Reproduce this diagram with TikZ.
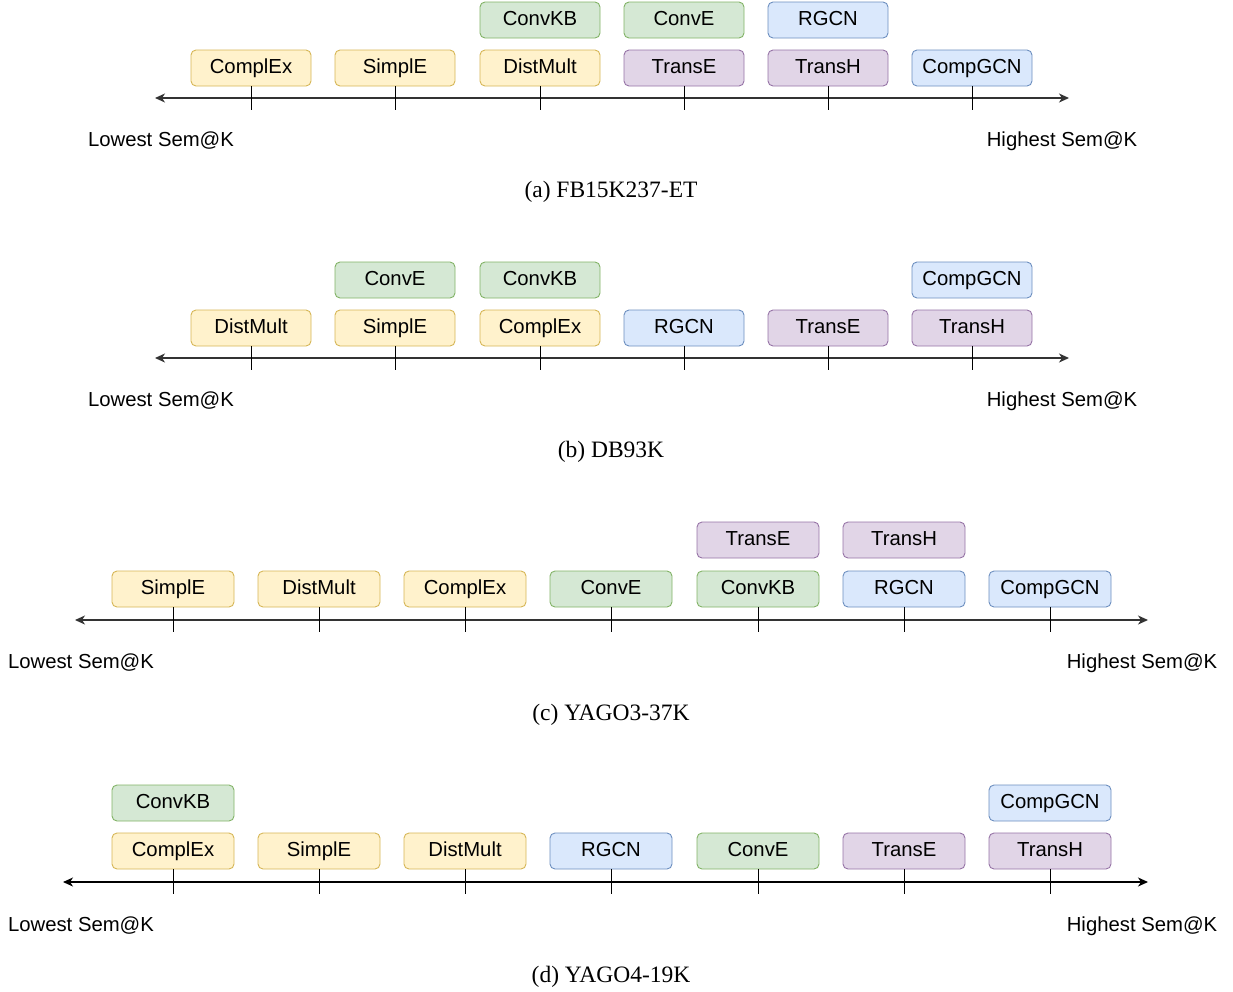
\documentclass[tikz,border=0pt]{standalone}
\usepackage{fontspec}
\setmainfont{Liberation Serif}
\setsansfont{Liberation Sans}
\usetikzlibrary{arrows.meta}
\definecolor{yfill}{HTML}{FFF2CC}\definecolor{ydraw}{HTML}{D6B656}
\definecolor{gfill}{HTML}{D5E8D4}\definecolor{gdraw}{HTML}{82B366}
\definecolor{bfill}{HTML}{DAE8FC}\definecolor{bdraw}{HTML}{6C8EBF}
\definecolor{pfill}{HTML}{E1D5E7}\definecolor{pdraw}{HTML}{9673A6}
\definecolor{axgray}{HTML}{333333}
\tikzset{
  mbox/.style={rounded corners=5pt, minimum width=120pt, minimum height=36pt, inner sep=0pt,
    font=\sffamily\fontsize{20.3}{24}\selectfont, text height=14.3pt, text depth=3pt, line width=0.9pt},
  wide/.style={minimum width=122pt},
  ybox/.style={mbox, fill=yfill, draw=ydraw},
  gbox/.style={mbox, fill=gfill, draw=gdraw},
  bbox/.style={mbox, fill=bfill, draw=bdraw},
  pbox/.style={mbox, fill=pfill, draw=pdraw},
  axisline/.style={draw=axgray, line width=1.4pt, {Stealth[length=10pt,width=9pt,inset=3pt]}-{Stealth[length=10pt,width=9pt,inset=3pt]}},
  axisblack/.style={axisline, draw=black, line width=1.1pt},
  tickline/.style={draw=black, line width=0.9pt},
  endlabel/.style={anchor=base, inner sep=0pt, font=\sffamily\fontsize{20.3}{24}\selectfont},
  captext/.style={anchor=base, inner sep=0pt, font=\fontsize{23.5}{28}\selectfont},
}
\begin{document}
\begin{tikzpicture}[x=1pt,y=-1pt]
\useasboundingbox (0,0) rectangle (1233,991);
% ---------------- (a)
\coordinate (aL) at (155,98); \coordinate (aR) at (1069,98);
\draw[axisline] (aL) -- (aR);
\node[ybox] (a1) at (251,68) {ComplEx};
\node[ybox] (a2) at (395,68) {SimplE};
\node[ybox] (a3) at (540,68) {DistMult};
\node[pbox] (a4) at (684,68) {TransE};
\node[pbox] (a5) at (828,68) {TransH};
\node[bbox] (a6) at (972,68) {CompGCN};
\node[gbox] (a7) at (540,20) {ConvKB};
\node[gbox] (a8) at (684,20) {ConvE};
\node[bbox] (a9) at (828,20) {RGCN};
\foreach \i/\x in {1/251,2/395,3/540,4/684,5/828,6/972}{
  \coordinate (at\i) at (\x,110);
  \draw[tickline] (a\i.south) -- (at\i);
}
\node[endlabel] (aLo) at (161,146) {Lowest Sem@K};
\node[endlabel] (aHi) at (1062,146) {Highest Sem@K};
\node[captext] (aCap) at (611,197) {(a) FB15K237-ET};
% ---------------- (b)
\coordinate (bL) at (155,358); \coordinate (bR) at (1069,358);
\draw[axisline] (bL) -- (bR);
\node[ybox] (b1) at (251,328) {DistMult};
\node[ybox] (b2) at (395,328) {SimplE};
\node[ybox] (b3) at (540,328) {ComplEx};
\node[bbox] (b4) at (684,328) {RGCN};
\node[pbox] (b5) at (828,328) {TransE};
\node[pbox] (b6) at (972,328) {TransH};
\node[gbox] (b7) at (395,280) {ConvE};
\node[gbox] (b8) at (540,280) {ConvKB};
\node[bbox] (b9) at (972,280) {CompGCN};
\foreach \i/\x in {1/251,2/395,3/540,4/684,5/828,6/972}{
  \coordinate (bt\i) at (\x,370);
  \draw[tickline] (b\i.south) -- (bt\i);
}
\node[endlabel] (bLo) at (161,406) {Lowest Sem@K};
\node[endlabel] (bHi) at (1062,406) {Highest Sem@K};
\node[captext] (bCap) at (611,457) {(b) DB93K};
% ---------------- (c)
\coordinate (cL) at (75,620); \coordinate (cR) at (1148,620);
\draw[axisline] (cL) -- (cR);
\node[ybox,wide] (c1) at (173,589) {SimplE};
\node[ybox,wide] (c2) at (319,589) {DistMult};
\node[ybox,wide] (c3) at (465,589) {ComplEx};
\node[gbox,wide] (c4) at (611,589) {ConvE};
\node[gbox,wide] (c5) at (758,589) {ConvKB};
\node[bbox,wide] (c6) at (904,589) {RGCN};
\node[bbox,wide] (c7) at (1050,589) {CompGCN};
\node[pbox,wide] (c8) at (758,540) {TransE};
\node[pbox,wide] (c9) at (904,540) {TransH};
\foreach \i/\x in {1/173,2/319,3/465,4/611,5/758,6/904,7/1050}{
  \coordinate (ct\i) at (\x,632);
  \draw[tickline] (c\i.south) -- (ct\i);
}
\node[endlabel] (cLo) at (81,668) {Lowest Sem@K};
\node[endlabel] (cHi) at (1142,668) {Highest Sem@K};
\node[captext] (cCap) at (611,720) {(c) YAGO3-37K};
% ---------------- (d)
\coordinate (dL) at (63,882); \coordinate (dR) at (1148,882);
\draw[axisblack] (dL) -- (dR);
\node[ybox,wide] (d1) at (173,851) {ComplEx};
\node[ybox,wide] (d2) at (319,851) {SimplE};
\node[ybox,wide] (d3) at (465,851) {DistMult};
\node[bbox,wide] (d4) at (611,851) {RGCN};
\node[gbox,wide] (d5) at (758,851) {ConvE};
\node[pbox,wide] (d6) at (904,851) {TransE};
\node[pbox,wide] (d7) at (1050,851) {TransH};
\node[gbox,wide] (d8) at (173,803) {ConvKB};
\node[bbox,wide] (d9) at (1050,803) {CompGCN};
\foreach \i/\x in {1/173,2/319,3/465,4/611,5/758,6/904,7/1050}{
  \coordinate (dt\i) at (\x,894);
  \draw[tickline] (d\i.south) -- (dt\i);
}
\node[endlabel] (dLo) at (81,931) {Lowest Sem@K};
\node[endlabel] (dHi) at (1142,931) {Highest Sem@K};
\node[captext] (dCap) at (611,982) {(d) YAGO4-19K};
\end{tikzpicture}
\end{document}
